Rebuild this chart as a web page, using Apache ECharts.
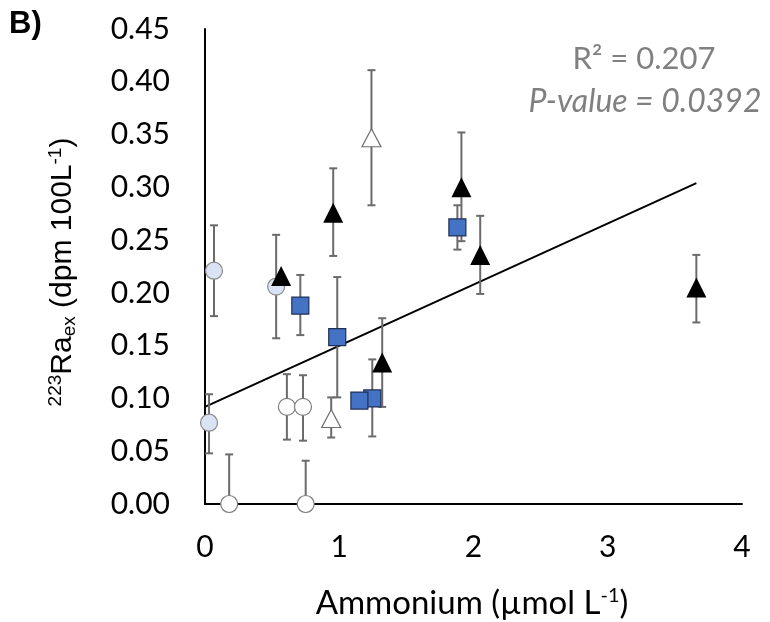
<!DOCTYPE html>
<html>
<head>
<meta charset="utf-8">
<title>223Ra ex vs Ammonium</title>
<script src="https://cdn.jsdelivr.net/npm/echarts@6/dist/echarts.min.js"></script>
<style>
  html, body { margin: 0; padding: 0; background: #fff; }
  #chart { width: 770px; height: 622px; }
</style>
</head>
<body>
<div id="chart"></div>
<script>
// Each point: [ammonium (µmol/L), 223Ra_ex (dpm/100L), error low, error high]
const circlesLightBlue = [
  [0.067, 0.221, 0.178, 0.264],
  [0.53, 0.206, 0.157, 0.255],
  [0.03, 0.077, 0.048, 0.104]
];
const circlesWhite = [
  [0.61, 0.092, 0.061, 0.123],
  [0.73, 0.092, 0.060, 0.122],
  [0.18, 0.000, null, 0.047],
  [0.75, 0.000, null, 0.041]
];
const trianglesWhite = [
  [1.24, 0.347, 0.283, 0.411],
  [0.94, 0.081, 0.063, 0.101]
];
const trianglesBlack = [
  [0.567, 0.216, null, null],
  [0.955, 0.276, 0.235, 0.318],
  [1.91, 0.300, 0.249, 0.352],
  [2.05, 0.236, 0.199, 0.273],
  [1.32, 0.134, 0.092, 0.176],
  [3.66, 0.205, 0.172, 0.236]
];
const squaresBlue = [
  [0.71, 0.188, 0.160, 0.217],
  [0.985, 0.158, 0.101, 0.215],
  [1.246, 0.100, 0.064, 0.137],
  [1.15, 0.098, null, null],
  [1.88, 0.262, 0.241, 0.283]
];
// Linear fit endpoints over the data range
const trendLine = [[0, 0.092], [3.66, 0.304]];

const xTicks = [0, 1, 2, 3, 4];
const yTicks = [0, 0.05, 0.10, 0.15, 0.20, 0.25, 0.30, 0.35, 0.40, 0.45];

const statR2 = 'R² = 0.207';
const statP = 'P-value = 0.0392';

const allPoints = [].concat(circlesLightBlue, circlesWhite, trianglesWhite, trianglesBlack, squaresBlue);
const errorPoints = allPoints.filter(p => p[2] !== null || p[3] !== null);

const chart = echarts.init(document.getElementById('chart'), null, { renderer: 'canvas' });

function errorBar(params, api) {
  const x = api.value(0);
  const y = api.value(1);
  const lo = api.value(2);
  const hi = api.value(3);
  const capHalf = 4;
  const style = { stroke: '#6b6b6b', lineWidth: 2 };
  const children = [];
  const top = api.coord([x, isNaN(hi) ? y : hi]);
  const bot = api.coord([x, isNaN(lo) ? y : lo]);
  children.push({ type: 'line', shape: { x1: top[0], y1: top[1], x2: bot[0], y2: bot[1] }, style });
  if (!isNaN(hi)) {
    children.push({ type: 'line', shape: { x1: top[0] - capHalf, y1: top[1], x2: top[0] + capHalf, y2: top[1] }, style });
  }
  if (!isNaN(lo)) {
    children.push({ type: 'line', shape: { x1: bot[0] - capHalf, y1: bot[1], x2: bot[0] + capHalf, y2: bot[1] }, style });
  }
  return { type: 'group', children };
}

const tickFont = 'Lato, "Open Sans", sans-serif';
const arialFont = '"Liberation Sans", Arial, sans-serif';

chart.setOption({
  animation: false,
  backgroundColor: '#ffffff',
  grid: { left: 205, right: 28, top: 29, bottom: 118, containLabel: false },
  xAxis: {
    type: 'value',
    min: xTicks[0],
    max: xTicks[xTicks.length - 1],
    interval: 1,
    axisLine: { show: true, onZero: false, lineStyle: { color: '#000', width: 2 } },
    axisTick: { show: false },
    splitLine: { show: false },
    axisLabel: { color: '#000', fontSize: 30, fontFamily: tickFont, margin: 28 }
  },
  yAxis: {
    type: 'value',
    min: yTicks[0],
    max: yTicks[yTicks.length - 1],
    interval: 0.05,
    axisLine: { show: true, onZero: false, lineStyle: { color: '#000', width: 2 } },
    axisTick: { show: false },
    splitLine: { show: false },
    axisLabel: { color: '#000', fontSize: 30, fontFamily: tickFont, margin: 35,
      formatter: v => v.toFixed(2) }
  },
  graphic: [
    { type: 'text', x: 9, y: 24,
      style: { text: 'B)', fontFamily: arialFont, fontWeight: 'bold', fontSize: 31, fill: '#000',
        align: 'left', verticalAlign: 'middle' } },
    { type: 'text', x: 644, y: 59,
      style: { text: statR2, font: '31px ' + tickFont, fill: '#808080', align: 'center', verticalAlign: 'middle' } },
    { type: 'text', x: 645, y: 102,
      style: { text: statP, font: 'italic 32px ' + tickFont, fill: '#808080', align: 'center', verticalAlign: 'middle' } },
    { type: 'text', x: 472, y: 603,
      style: {
        text: 'Ammonium (µmol L{sup|-1})',
        font: '33px ' + tickFont, fill: '#000', align: 'center', verticalAlign: 'middle',
        rich: { sup: { fontSize: 20, fontFamily: tickFont, padding: [0, 0, 14, 0], fill: '#000' } }
      } },
    { type: 'text', x: 63, y: 272, rotation: Math.PI / 2,
      style: {
        text: '{sup|223}Ra{sub|ex} (dpm 100L{sup|-1})',
        font: '30px ' + arialFont, fill: '#000', align: 'center', verticalAlign: 'middle',
        rich: {
          sup: { fontSize: 19, fontFamily: arialFont, padding: [0, 0, 14, 0], fill: '#000' },
          sub: { fontSize: 19, fontFamily: arialFont, padding: [14, 0, 0, 0], fill: '#000' }
        }
      } }
  ],
  series: [
    {
      type: 'line', data: trendLine, symbol: 'none', z: 2,
      lineStyle: { color: '#000', width: 2 }
    },
    {
      type: 'custom', renderItem: errorBar, z: 3,
      data: errorPoints.map(p => [p[0], p[1], p[2] === null ? NaN : p[2], p[3] === null ? NaN : p[3]]),
      encode: { x: 0, y: 1 }
    },
    {
      type: 'scatter', data: circlesLightBlue.map(p => [p[0], p[1]]), z: 4,
      symbol: 'circle', symbolSize: 17,
      itemStyle: { color: '#dae3f3', borderColor: '#8a8a8a', borderWidth: 1.2, opacity: 1 }
    },
    {
      type: 'scatter', data: circlesWhite.map(p => [p[0], p[1]]), z: 4,
      symbol: 'circle', symbolSize: 17,
      itemStyle: { color: '#ffffff', borderColor: '#7a7a7a', borderWidth: 1.2, opacity: 1 }
    },
    {
      type: 'scatter', data: trianglesWhite.map(p => [p[0], p[1]]), z: 4,
      symbol: 'triangle', symbolSize: [19, 18],
      itemStyle: { color: '#ffffff', borderColor: '#6e6e6e', borderWidth: 1.2, opacity: 1 }
    },
    {
      type: 'scatter', data: trianglesBlack.map(p => [p[0], p[1]]), z: 5,
      symbol: 'triangle', symbolSize: [20, 20],
      itemStyle: { color: '#000000', borderWidth: 0, opacity: 1 }
    },
    {
      type: 'scatter', data: squaresBlue.map(p => [p[0], p[1]]), z: 5,
      symbol: 'rect', symbolSize: 17,
      itemStyle: { color: '#4472c4', borderColor: '#1f2f55', borderWidth: 1.2, opacity: 1 }
    }
  ]
});
</script>
</body>
</html>
